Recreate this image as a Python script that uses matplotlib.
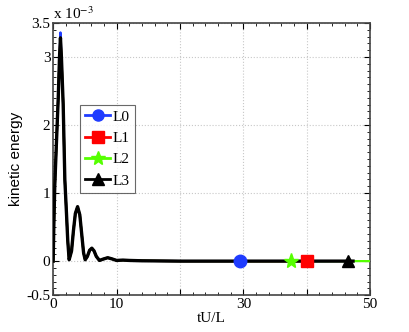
import matplotlib
matplotlib.use('Agg')
import matplotlib.pyplot as plt
from matplotlib.ticker import AutoMinorLocator

# kinetic energy (units of 1e-3) vs tU/L
t = [0, 0.1, 0.25, 0.5, 0.8, 1.0, 1.15, 1.3, 1.58, 1.84, 2.1, 2.3, 2.52,
     2.9, 3.2, 3.5, 3.85, 4.2, 4.5, 4.8, 5.05,
     5.4, 5.75, 6.1, 6.45, 6.8, 7.3,
     7.9, 8.6, 9.2, 10, 11, 12, 14, 20, 30, 40, 47.3, 50]
ke = [0, 0.5, 1.1, 1.7, 2.4, 3.0, 3.28, 3.0, 2.3, 1.2, 0.7, 0.3, 0.02,
      0.15, 0.45, 0.7, 0.8, 0.68, 0.4, 0.12, 0.02,
      0.07, 0.16, 0.19, 0.15, 0.07, 0.01,
      0.03, 0.05, 0.035, 0.01, 0.015, 0.01, 0.005, 0, 0, 0, 0, 0]
peak_l0 = 3.36
peak_l2 = 3.25
peak_idx = 6

labels = ['L0', 'L1', 'L2', 'L3']
colors = ['#1f3cff', '#ff0000', '#55ff00', '#000000']
markers = ['o', 's', '*', '^']
marker_t = [29.5, 40.0, 37.5, 46.5]
t_end = [30, 40, 50, 47.3]

plt.rcParams['font.family'] = ['Liberation Serif', 'DejaVu Serif']
plt.rcParams['mathtext.fontset'] = 'stix'

fig = plt.figure(figsize=(4.09, 3.32), dpi=100)
ax = fig.add_axes([0.13, 0.111, 0.775, 0.82])

for i, lab in enumerate(labels):
    y = list(ke)
    if i == 0:
        y[peak_idx] = peak_l0
    if i == 2:
        y[peak_idx] = peak_l2
    tt = [v for v in t if v <= t_end[i]]
    yy = [y[k] * 1e-3 for k in range(len(tt))]
    lw = 2.4 if i == 3 else 1.6
    ax.plot(tt, yy, color=colors[i], lw=lw, zorder=2 + i, solid_joinstyle='round')
    ax.plot([marker_t[i]], [0], marker=markers[i], color=colors[i], ms=9 if i != 2 else 11,
            ls='none', zorder=7)
    # legend proxy
    ax.plot([], [], color=colors[i], lw=2, marker=markers[i], ms=8 if i != 2 else 10, label=lab)

ax.set_xlim(0, 50)
ax.set_ylim(-0.5e-3, 3.5e-3)
ax.set_xticks([0, 10, 20, 30, 40, 50])
ax.set_xticklabels(['0', '10', '', '30', '', '50'])
ax.set_yticks([-0.5e-3, 0, 1e-3, 2e-3, 3e-3, 3.5e-3])
ax.set_yticklabels(['-0.5', '0', '1', '2', '3', '3.5'])
ax.xaxis.set_minor_locator(AutoMinorLocator(5))
ax.yaxis.set_minor_locator(AutoMinorLocator(5))
ax.tick_params(which='both', direction='in', top=True, right=True, labelsize=11, pad=2)
ax.tick_params(which='major', length=4)
ax.tick_params(which='minor', length=2)
ax.grid(True, which='major', ls=':', color='#c8c8c8', lw=0.8)
for s in ax.spines.values():
    s.set_color('#444444')
    s.set_linewidth(1.2)

ax.set_xlabel('tU/L', fontsize=11, labelpad=1)
ax.set_ylabel('kinetic energy', fontsize=11, labelpad=2, family=['Liberation Sans', 'DejaVu Sans'])
ax.text(0.0, 1.005, r'x 10$^{-3}$', transform=ax.transAxes, fontsize=11, ha='left', va='bottom')

leg = ax.legend(loc='upper left', bbox_to_anchor=(0.085, 0.70), borderaxespad=0, fontsize=11,
                frameon=True, fancybox=False, edgecolor='#444444', handlelength=1.6,
                borderpad=0.35, labelspacing=0.5, handletextpad=0.2)
leg.get_frame().set_linewidth(0.8)

fig.savefig('out.png', dpi=100)
